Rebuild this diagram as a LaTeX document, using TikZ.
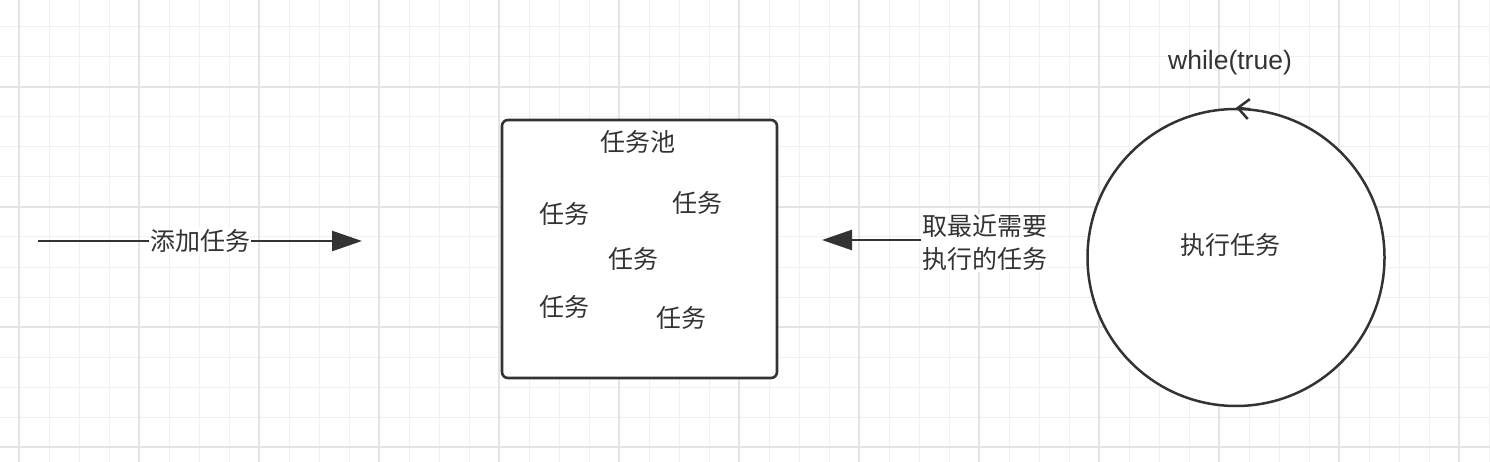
\documentclass[tikz,border=0pt]{standalone}
\usepackage{fontspec}
\setmainfont{Noto Sans CJK SC}
\newfontfamily\latinfont{Liberation Sans}
\usetikzlibrary{arrows.meta}
\definecolor{ink}{HTML}{333333}
\definecolor{gridminor}{HTML}{F0F0F0}
\definecolor{gridmajor}{HTML}{E4E4E4}

\begin{document}
\begin{tikzpicture}[
            x=1pt, y=-1pt,
            minor/.style={draw=gridminor, line width=1pt},
            major/.style={draw=gridmajor, line width=1.2pt},
            flow/.style={draw=ink, line width=2.5pt, -{Triangle[length=30pt, width=20pt]}},
            txt/.style={text=ink, font=\fontsize{25}{33}\selectfont, inner sep=1pt},
            tag/.style={txt, fill=white, align=left},
            pool/.style={draw=ink, line width=2.6pt, rounded corners=6pt, fill=white,
                minimum width=275pt, minimum height=258pt},
            ring/.style={draw=ink, line width=2.5pt, circle, fill=white, minimum size=297pt},
            barb/.style={draw=ink, line width=2.5pt, -{Straight Barb[length=11pt, width=20pt]}}
        ]
            % background
            \useasboundingbox[fill=white] (0, 0) rectangle (1490, 462);
            \foreach \x in {19, 49, ..., 1489} \draw[minor] (\x, 0) -- (\x, 462);
            \foreach \y in {27, 57, ..., 447} \draw[minor] (0, \y) -- (1490, \y);
            \foreach \x in {19, 139, ..., 1459} \draw[major] (\x, 0) -- (\x, 462);
            \foreach \y in {87, 207, 327, 447} \draw[major] (0, \y) -- (1490, \y);
            % add
            \coordinate (addstart) at (38, 241);
            \coordinate (addend) at (362, 241);
            \draw[flow] (addstart) -- (addend) node[midway, tag] (add) {添加任务};
            % pool
            \node[pool] (pool) at (639.5, 249) {};
            \node[txt] (pooltitle) at (638, 142) {任务池};
            \node[txt] (taska) at (564, 214) {任务};
            \node[txt] (taskb) at (697, 203) {任务};
            \node[txt] (taskc) at (633, 259) {任务};
            \node[txt] (taskd) at (564, 307) {任务};
            \node[txt] (taske) at (681, 318) {任务};
            % fetch
            \node[tag, anchor=west] (fetch) at (921, 243) {取最近需要\\执行的任务};
            \coordinate (fetchend) at (822, 240);
            \draw[flow] (fetch.west |- fetchend) -- (fetchend);
            % loop
            \node[ring] (loop) at (1236, 257.5) {};
            \node[txt] (exec) at (1230, 245) {执行任务};
            \coordinate (barbstart) at (1250, 109.2);
            \draw[barb] (barbstart) -- (loop.north);
            \node[txt, font=\latinfont\fontsize{26.5}{30}\selectfont] (while) at (1230, 63) {while(true)};
        \end{tikzpicture}
\end{document}
